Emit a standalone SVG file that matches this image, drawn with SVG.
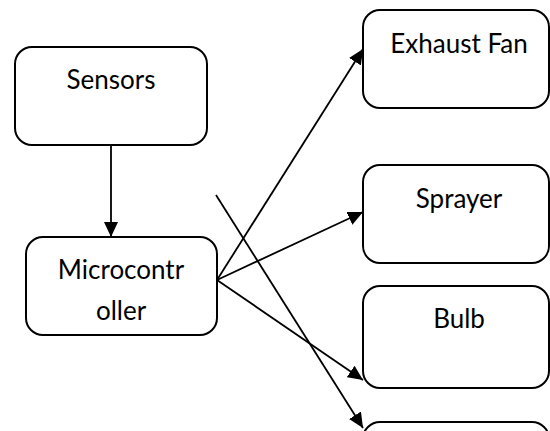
<svg xmlns="http://www.w3.org/2000/svg" width="550" height="431" viewBox="0 0 550 431">
  <style>
    .box { fill: #ffffff; stroke: #000000; stroke-width: 2; }
    .label { font-family: Lato, "Open Sans", "Liberation Sans", sans-serif; font-size: 26px; fill: #000000; text-anchor: middle; }
    .wire { stroke: #000000; stroke-width: 1.8; fill: none; marker-end: url(#arrow); }
  </style>
  <defs>
    <marker id="arrow" markerUnits="userSpaceOnUse" markerWidth="16" markerHeight="14" refX="15" refY="7" orient="auto">
      <path d="M0,0 L15,7 L0,14 Z" fill="#000000"/>
    </marker>
  </defs>
  <rect width="550" height="431" fill="#ffffff"/>

  <g id="sensors">
    <rect class="box" x="15" y="47" width="192" height="98" rx="17"/>
    <text class="label" x="111" y="89">Sensors</text>
  </g>

  <g id="microcontroller">
    <rect class="box" x="26" y="237" width="191" height="98" rx="17"/>
    <text class="label" x="121" y="279">Microcontr</text>
    <text class="label" x="121" y="320">oller</text>
  </g>

  <g id="exhaust-fan">
    <rect class="box" x="363" y="10" width="186" height="98" rx="17"/>
    <text class="label" x="459" y="53">Exhaust Fan</text>
  </g>

  <g id="sprayer">
    <rect class="box" x="363" y="165" width="186" height="98" rx="17"/>
    <text class="label" x="459" y="208">Sprayer</text>
  </g>

  <g id="bulb">
    <rect class="box" x="363" y="286" width="186" height="102" rx="17"/>
    <text class="label" x="459" y="328">Bulb</text>
  </g>

  <g id="output-4">
    <rect class="box" x="363" y="422" width="186" height="98" rx="17"/>
  </g>

  <g id="connectors">
    <line class="wire" x1="111" y1="145" x2="111" y2="237"/>
    <line class="wire" x1="217" y1="280" x2="363" y2="49"/>
    <line class="wire" x1="217" y1="280" x2="363" y2="212"/>
    <line class="wire" x1="217" y1="280" x2="363" y2="380"/>
    <line class="wire" x1="216" y1="195" x2="363" y2="428"/>
  </g>
</svg>
